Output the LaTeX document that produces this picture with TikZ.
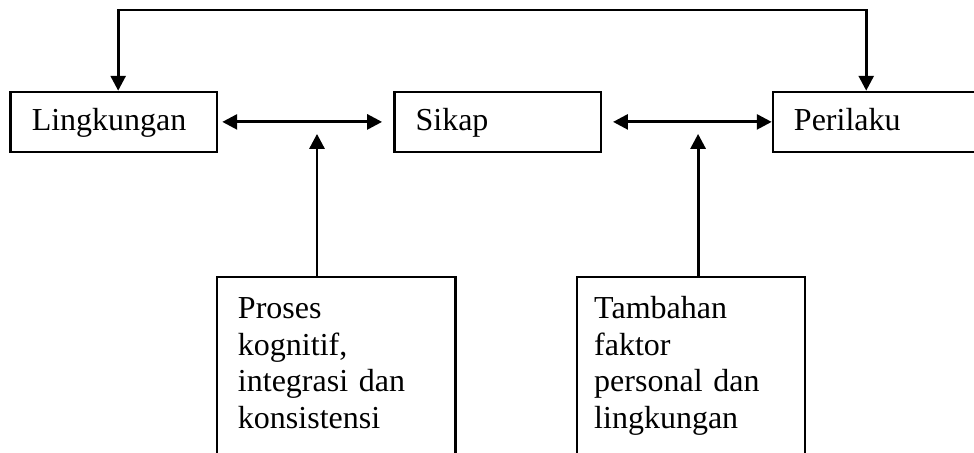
\documentclass[tikz,border=0pt]{standalone}
\usepackage{fontspec}
\setmainfont{Liberation Serif}
\usetikzlibrary{arrows.meta, positioning, calc}

\begin{document}
\begin{tikzpicture}[x=0.375pt, y=-0.375pt,
    box/.style={draw, line width=0.9pt, anchor=north west, align=left,
      font=\fontsize{12}{13.8}\selectfont},
    topbox/.style={box, text width=61.6pt, inner xsep=7.9pt, inner ysep=5.43pt,
      text height=9pt, text depth=2.64pt},
    lowbox/.style={box, inner ysep=5.4pt, text height=10pt, text depth=60pt},
    arr/.style={line width=1.1pt, -{Triangle[length=5.6pt, width=5.6pt]}},
    darr/.style={line width=1.1pt,
      {Triangle[length=5.6pt, width=5.6pt]}-{Triangle[length=5.6pt, width=5.6pt]}}]
    \useasboundingbox (0,0) rectangle (974,453);
    \clip (0,0) rectangle (974,453);

    % Top row
    \node[topbox] (lingkungan) at (9.5,90.7) {Lingkungan};
    \node[topbox] (sikap) at (393.3,90.7) {Sikap};
    \node[topbox] (perilaku) at (771.7,90.7) {Perilaku};

    % Bottom row
    \node[lowbox, text width=73.6pt, inner xsep=7.9pt] (proses) at (215.7,276)
      {Proses\\kognitif,\\integrasi dan\\konsistensi};
    \node[lowbox, text width=72.6pt, inner xsep=6.5pt] (tambahan) at (575.7,276)
      {Tambahan\\faktor\\personal dan\\lingkungan};

    % Feedback line over the top
    \draw[darr] ([xshift=1.6pt]lingkungan.north) -- ++(0,-80.7)
      -| ([xshift=-3.7pt]perilaku.north);

    % Two-way arrows
    \draw[darr, shorten <=1.5pt, shorten >=4.2pt] (lingkungan.east) -- (sikap.west);
    \draw[darr, shorten <=4.1pt] (sikap.east) -- (perilaku.west);

    % Influences from below
    \coordinate (j1) at ($(lingkungan.east)!0.564!(sikap.west)$);
    \coordinate (j2) at ($(sikap.east)!0.566!(perilaku.west)$);
    \draw[arr, shorten >=4.5pt] (proses.north -| j1) -- (j1);
    \draw[arr, shorten >=4.5pt] (tambahan.north -| j2) -- (j2);
\end{tikzpicture}
\end{document}
